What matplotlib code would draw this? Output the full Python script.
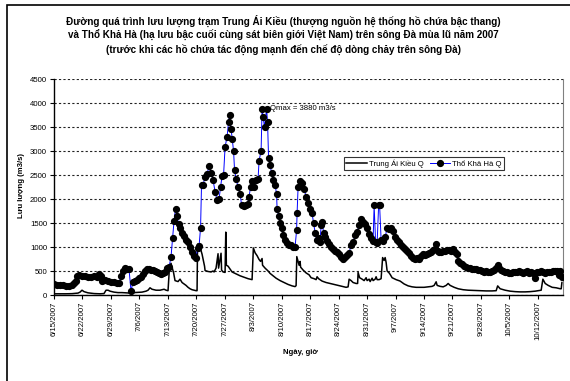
import datetime as dt

import matplotlib
matplotlib.use("Agg")
import matplotlib.pyplot as plt
from matplotlib.patches import Rectangle
import numpy as np

plt.rcParams['font.family'] = ['Liberation Sans', 'DejaVu Sans']

START = dt.datetime(2007, 6, 15)

# Trung Ai Kieu discharge (m3/s), time in days since 15/6/2007
tak_day = [0, 1.48, 2.95, 4.43, 5.91, 6.40, 6.89, 7.38, 8.37, 9.84, 11.32, 12.30, 12.80,
           13.29, 13.78, 14.76, 15.75, 16.73, 17.72, 18.70, 19.68, 20.67, 21.65, 22.64,
           23.13, 23.62, 24.11, 25.10, 26.08, 26.57, 27.07, 27.56, 28.05, 28.42, 28.79,
           29.03, 29.40, 29.77, 30.51, 31.00, 31.50, 31.99, 32.48, 32.97, 33.46, 33.96,
           34.45, 34.94, 35.19, 35.31, 35.68, 36.05, 36.42, 36.79, 37.03, 37.16, 37.89,
           38.63, 39.12, 39.37, 39.86, 40.35, 40.48, 41.09, 41.22, 41.58, 42.08, 42.25,
           42.40, 42.82, 43.80, 44.78, 45.77, 46.75, 47.74, 48.72, 49.04, 49.46, 49.95,
           50.44, 50.81, 51.18, 51.30, 51.92, 52.66, 53.15, 53.89, 54.63, 55.61, 56.59,
           57.58, 58.56, 59.30, 59.55, 59.72, 60.04, 60.29, 60.53, 60.66, 61.27, 62.01,
           62.75, 63.24, 63.98, 64.47, 64.71, 65.08, 65.94, 66.93, 67.91, 68.90, 69.88,
           70.87, 71.85, 72.34, 72.59, 73.08, 73.57, 74.31, 74.68, 74.80, 75.17, 75.79,
           76.28, 76.77, 77.02, 77.51, 77.76, 78.25, 78.49, 78.99, 79.23, 79.48, 79.97,
           80.46, 80.83, 81.20, 81.45, 81.69, 81.94, 82.43, 82.68, 83.17, 84.15, 85.14,
           86.12, 87.11, 88.09, 89.07, 90.06, 91.04, 92.03, 93.01, 93.50, 94.00, 94.24,
           94.98, 95.72, 96.46, 96.95, 97.44, 98.43, 99.41, 100.64, 101.87, 103.35,
           104.82, 106.30, 107.77, 108.76, 109.13, 109.74, 110.97, 112.20, 113.43,
           114.66, 115.89, 117.12, 118.36, 119.09, 119.83, 120.25, 120.82, 121.56,
           122.54, 123.52, 124.51, 124.76, 124.93]
tak_q = [25, 25, 25, 28, 40, 60, 100, 70, 45, 30, 25, 30, 100,
         100, 80, 60, 50, 50, 45, 40, 50, 55, 60, 80,
         100, 150, 120, 100, 100, 110, 120, 100, 90, 600, 660,
         580, 470, 300, 280, 330, 260, 230, 200, 160, 130, 110,
         100, 90, 90, 1060, 1000, 960, 850, 700, 600, 510, 490,
         480, 500, 480, 560, 860, 560, 870, 520, 480, 470, 1310,
         620, 600, 480, 440, 400, 370, 340, 320, 980, 880, 820,
         740, 700, 760, 620, 560, 500, 450, 400, 350, 300, 260,
         220, 190, 175, 195, 800, 700, 620, 700, 580, 520, 460,
         420, 360, 340, 320, 380, 340, 290, 260, 240, 220, 200,
         180, 160, 170, 330, 300, 260, 240, 240, 470, 360, 330,
         300, 360, 300, 330, 280, 350, 300, 330, 380, 320, 320,
         340, 780, 720, 780, 680, 500, 460, 430, 360, 320, 290,
         230, 190, 170, 160, 160, 160, 170, 180, 200, 275, 200,
         180, 170, 200, 240, 200, 160, 130, 110, 100, 95,
         90, 85, 85, 90, 190, 130, 100, 80, 70,
         65, 65, 70, 80, 90, 100, 330, 240, 200,
         160, 150, 130, 130, 260]

# Tho Kha Ha discharge (m3/s), time in days since 15/6/2007
tkh_day = [0, 0.74, 1.48, 2.21, 2.95, 3.69, 4.43, 4.92, 5.41, 5.66, 6.15, 6.89, 7.63,
           8.37, 9.10, 9.84, 10.58, 11.07, 11.57, 11.81, 12.55, 13.29, 14.03, 14.76,
           15.50, 15.99, 16.49, 16.98, 17.47, 17.96, 18.45, 18.95, 19.44, 19.93, 20.42,
           20.92, 21.41, 21.90, 22.39, 22.88, 23.38, 23.87, 24.36, 24.85, 25.34, 25.84,
           26.33, 26.82, 27.31, 27.80, 28.30, 28.79, 29.16, 29.53, 29.90, 30.27, 30.63,
           31.00, 31.50, 31.99, 32.48, 32.97, 33.46, 33.96, 34.45, 34.94, 35.31, 35.68,
           36.05, 36.29, 36.66, 37.16, 37.65, 38.14, 38.63, 39.12, 39.62, 40.11, 40.60,
           40.97, 41.34, 41.71, 42.08, 42.57, 42.94, 43.18, 43.55, 43.80, 44.17, 44.41,
           44.78, 45.28, 45.77, 46.14, 46.63, 47.12, 47.61, 47.98, 48.35, 48.72, 49.21,
           49.70, 50.20, 50.44, 50.94, 51.18, 51.43, 51.80, 52.29, 52.53, 52.78, 53.15,
           53.52, 53.89, 54.38, 54.75, 54.87, 55.24, 55.61, 55.98, 56.35, 56.84, 57.33,
           57.82, 58.32, 58.81, 59.30, 59.67, 59.79, 60.04, 60.53, 61.02, 61.52, 62.01,
           62.50, 62.99, 63.48, 63.85, 64.22, 64.59, 65.08, 65.45, 65.70, 65.94, 66.31,
           66.68, 67.17, 67.67, 68.16, 68.65, 69.14, 69.63, 70.13, 70.62, 71.11, 71.60,
           72.10, 72.59, 73.08, 73.57, 74.06, 74.56, 75.05, 75.54, 76.03, 76.52, 77.02,
           77.51, 78.00, 78.49, 78.74, 79.11, 79.48, 79.85, 80.09, 80.46, 80.95, 81.45,
           81.94, 82.43, 82.92, 83.41, 83.91, 84.40, 84.89, 85.38, 85.87, 86.37, 86.86,
           87.35, 87.84, 88.34, 88.83, 89.32, 89.81, 90.30, 90.80, 91.29, 91.78, 92.27,
           92.76, 93.26, 93.75, 94.00, 94.36, 94.73, 95.23, 95.72, 96.21, 96.70, 97.19,
           97.69, 98.18, 98.67, 99.16, 99.41, 99.90, 100.39, 100.88, 101.38, 101.87,
           102.36, 102.85, 103.35, 103.84, 104.33, 104.82, 105.31, 105.81, 106.30,
           106.79, 107.28, 107.77, 108.27, 108.76, 109.13, 109.50, 109.99, 110.48,
           110.97, 111.47, 111.96, 112.45, 112.94, 113.43, 113.93, 114.42, 114.91,
           115.40, 115.89, 116.39, 116.88, 117.37, 117.86, 118.36, 118.85, 119.34,
           119.83, 120.32, 120.82, 121.31, 121.80, 122.29, 122.78, 123.28, 123.77,
           124.26, 124.51, 124.88]
tkh_q = [220, 215, 205, 200, 195, 190, 200, 240, 300, 400, 410, 390, 395,
         385, 380, 390, 370, 440, 400, 300, 310, 290, 280, 270,
         250, 240, 400, 500, 560, 550, 540, 75, 280, 300, 320,
         350, 380, 440, 500, 540, 550, 530, 520, 500, 480, 460,
         440, 450, 470, 560, 580, 800, 1180, 1550, 1800, 1650, 1480,
         1400, 1300, 1220, 1150, 1100, 1000, 900, 820, 780, 980, 1020,
         1400, 2300, 2300, 2450, 2520, 2680, 2550, 2400, 2150, 1980, 2000,
         2250, 2480, 2500, 3080, 3300, 3600, 3740, 3460, 3250, 3000, 2600,
         2420, 2250, 2100, 1880, 1850, 1870, 1900, 2050, 2250, 2380, 2250,
         2400, 2420, 2800, 3000, 3880, 3700, 3500, 3880, 3600, 2850, 2700,
         2550, 2400, 2300, 2100, 1800, 1650, 1500, 1400, 1250, 1150, 1080,
         1050, 1040, 1010, 1000, 1350, 1700, 2250, 2380, 2330, 2200, 2050,
         1920, 1800, 1700, 1500, 1300, 1150, 1180, 1100, 1450, 1520, 1300,
         1200, 1120, 1060, 1000, 950, 920, 890, 850, 800, 760, 800,
         830, 870, 1050, 1100, 1250, 1320, 1450, 1580, 1520, 1480, 1400,
         1280, 1180, 1120, 1870, 1100, 1080, 1870, 1870, 1150, 1120, 1200,
         1400, 1380, 1400, 1330, 1200, 1150, 1100, 1050, 1000, 960, 920,
         880, 820, 780, 760, 770, 760, 820, 850, 830, 860, 870,
         900, 940, 950, 1070, 920, 900, 890, 910, 920, 940, 930,
         920, 950, 900, 850, 700, 660, 640, 610, 590, 570,
         560, 550, 540, 540, 530, 520, 500, 480, 500,
         470, 480, 500, 520, 560, 620, 560, 520, 490,
         480, 470, 460, 450, 470, 480, 470, 490, 480,
         460, 480, 490, 460, 470, 450, 360, 470, 480,
         500, 470, 460, 470, 470, 480, 500, 490, 490,
         420, 510, 380]

y_ticks = list(range(0, 4501, 500))


def to_dates(days):
    return [START + dt.timedelta(days=d) for d in days]


W, H = 570, 381
fig = plt.figure(figsize=(W / 100, H / 100), dpi=100)
fig.patch.set_facecolor('white')

ax = fig.add_axes([54 / W, 1 - 295 / H, 509 / W, 216 / H])

ax.plot(to_dates(tak_day), tak_q, color='black', lw=1.1, label='Trung Ái Kiều Q', zorder=3)
ax.plot(to_dates(tkh_day), tkh_q, color='#0000ff', lw=0.7, marker='o', ms=4.2,
        mfc='black', mec='black', label='Thổ Khả Hà Q', zorder=4)

# peak annotation
i_max = int(np.argmax(tkh_q))
ax.annotate(f"Qmax = {tkh_q[i_max]} m3/s", xy=(to_dates([tkh_day[i_max]])[0], tkh_q[i_max]),
            xytext=(5.5, 0), textcoords='offset points', va='center', ha='left',
            fontsize=5.6, zorder=6)

# axes
ax.set_ylim(0, 4500)
ax.set_yticks(y_ticks)
ax.set_xlim(START, START + dt.timedelta(days=125.2))
week_ticks = [START + dt.timedelta(days=7 * k) for k in range(18)]
ax.set_xticks(week_ticks)
ax.set_xticklabels([f"{d.month}/{d.day}/{d.year}" for d in week_ticks], rotation=90)

ax.yaxis.grid(True, linestyle=(0, (2, 2)), color='#222222', lw=0.8)
ax.set_axisbelow(True)
ax.spines['top'].set_visible(False)
ax.spines['right'].set_color('#808080')
ax.spines['right'].set_linewidth(0.8)
ax.spines['left'].set_linewidth(1.0)
ax.spines['bottom'].set_linewidth(1.0)
ax.tick_params(axis='both', direction='out', length=3, width=0.8, labelsize=5.6, pad=2)
ax.tick_params(axis='x', pad=1.5)

leg = ax.legend(loc='upper left', bbox_to_anchor=((344 - 54) / 509, (295 - 157) / 216),
                ncol=2, fontsize=5.6, frameon=True, fancybox=False, borderpad=0.3,
                handlelength=2.6, handletextpad=0.3, columnspacing=0.8,
                borderaxespad=0)
leg.get_frame().set_edgecolor('black')
leg.get_frame().set_linewidth(0.8)

# titles and axis labels
fig.text(283 / W, 1 - 35 / H,
         "Đường quá trình lưu lượng trạm Trung Ái Kiều (thượng nguồn hệ thống hồ chứa bậc thang)\n"
         "và Thổ Khả Hà (hạ lưu bậc cuối cùng sát biên giới Việt Nam) trên sông Đà mùa lũ năm 2007\n"
         "(trước khi các hồ chứa tác động mạnh đến chế độ dòng chảy trên sông Đà)",
         ha='center', va='center', fontsize=7.15, fontweight='bold', linespacing=1.28)
fig.text(21.5 / W, 1 - 186 / H, "Lưu lượng (m3/s)", rotation=90, ha='center', va='center',
         fontsize=5.6, fontweight='bold')
fig.text(300 / W, 1 - 352 / H, "Ngày, giờ", ha='center', va='center',
         fontsize=5.6, fontweight='bold')

# outer chart frame
fig.patches.append(Rectangle((6.5 / W, -0.05), 1.2, 1.05 - 5 / H, transform=fig.transFigure,
                             fill=False, lw=1.2, ec='black'))

fig.savefig('out.png', dpi=100)
